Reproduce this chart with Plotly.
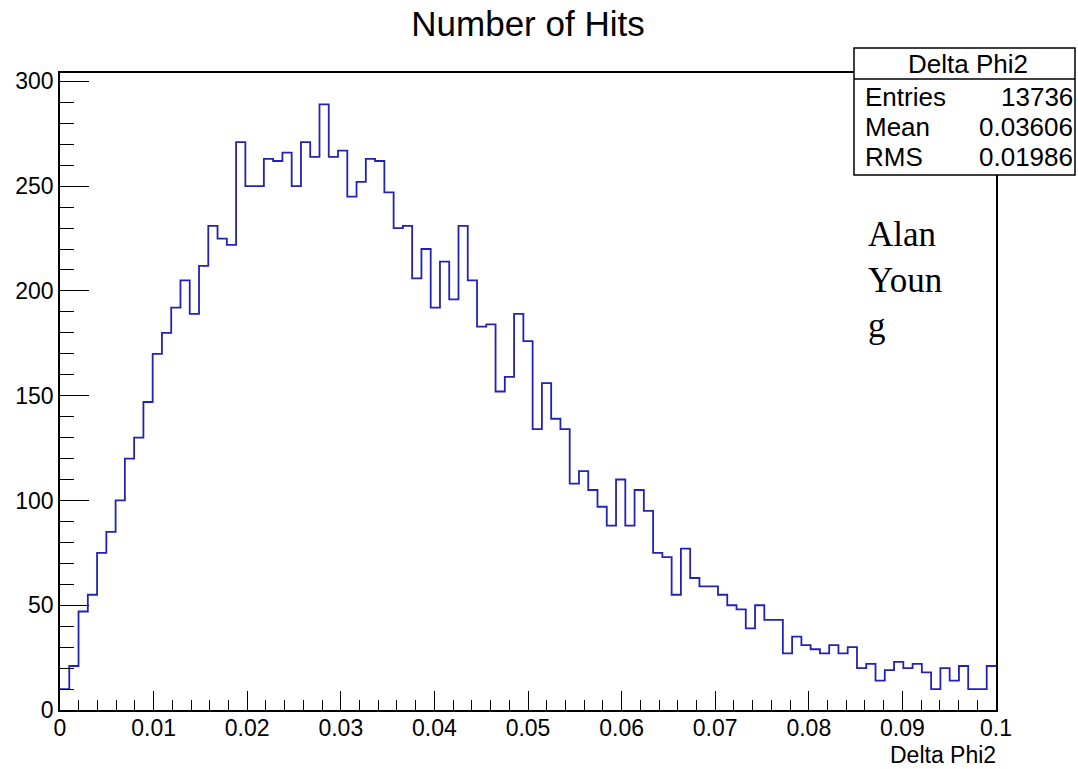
import numpy as np
import plotly.graph_objects as go

# ---- data ----
title_text = "Number of Hits"
x_title = "Delta Phi2"
x_min, x_max, n_bins = 0.0, 0.1, 101
counts = [
    10, 21, 47, 55, 75, 85, 100, 120, 130, 147,
    170, 180, 192, 205, 189, 212, 231, 225, 222, 271,
    250, 250, 263, 262, 266, 250, 271, 264, 289, 264,
    267, 245, 252, 263, 262, 247, 230, 231, 206, 220,
    192, 214, 196, 231, 205, 183, 184, 152, 159, 189,
    176, 134, 156, 139, 134, 108, 114, 105, 97, 88,
    110, 88, 105, 95, 75, 73, 55, 77, 63, 59,
    59, 55, 50, 48, 39, 50, 43, 43, 27, 35,
    31, 29, 27, 31, 27, 30, 20, 22, 14, 19,
    23, 20, 22, 18, 10, 20, 14, 21, 10, 10,
    21,
]
stats_title = "Delta Phi2"
stats_labels = ["Entries", "Mean", "RMS"]
stats_values = ["13736", "0.03606", "0.01986"]
note_lines = ["Alan", "Youn", "g"]

# ---- figure ----
W, H = 1078, 769
L, R, T, B = 60, 82, 73, 59
PW, PH = W - L - R, H - T - B

def px(xp):
    return (xp - L) / PW

def py(yp):
    return (H - B - yp) / PH

edges = np.linspace(x_min, x_max, n_bins + 1)
ys = list(counts) + [counts[-1]]

fig = go.Figure()
fig.add_trace(go.Scatter(
    x=edges, y=ys, mode="lines", line_shape="hv",
    line=dict(color="#2222b4", width=1.8), hoverinfo="skip", showlegend=False,
))

font = "Liberation Sans, Arial, sans-serif"
axis_common = dict(
    showline=True, linecolor="black", linewidth=1.5, mirror=True,
    ticks="inside", tickcolor="black", tickwidth=1.3,
    showgrid=False, zeroline=False,
    tickfont=dict(family=font, size=23, color="black"),
)
fig.update_xaxes(range=[x_min, x_max], tick0=0, dtick=0.01, ticklen=19, ticklabelstandoff=-3,
                 minor=dict(ticks="inside", ticklen=10, dtick=0.002, tickcolor="black", tickwidth=1.3, showgrid=False),
                 **axis_common)
fig.update_yaxes(range=[0, 304], tick0=0, dtick=50, ticklen=29,
                 minor=dict(ticks="inside", ticklen=14, dtick=10, tickcolor="black", tickwidth=1.3, showgrid=False),
                 **axis_common)

shapes = [
    dict(type="rect", xref="paper", yref="paper", x0=px(854), x1=px(1075), y0=py(48), y1=py(175),
         fillcolor="white", line=dict(color="black", width=1.5), layer="above"),
    dict(type="line", xref="paper", yref="paper", x0=px(854), x1=px(1075), y0=py(79), y1=py(79),
         line=dict(color="black", width=1.5), layer="above"),
]

ann = [
    dict(text=stats_title, x=px(968), y=py(64), xanchor="center", yanchor="middle"),
]
row_y = [97, 127, 157]
for lab, val, yy in zip(stats_labels, stats_values, row_y):
    ann.append(dict(text=lab, x=px(863), y=py(yy), xanchor="left", yanchor="middle"))
    ann.append(dict(text=val, x=px(1075), y=py(yy), xanchor="right", yanchor="middle"))
for a in ann:
    a.update(xref="paper", yref="paper", showarrow=False,
             font=dict(family=font, size=26, color="black"))

ann.append(dict(text=x_title, xref="paper", yref="paper", x=px(997), y=py(769),
                xanchor="right", yanchor="bottom", showarrow=False, borderpad=0,
                font=dict(family=font, size=23, color="black")))
ann.append(dict(text="<br>".join(note_lines), xref="paper", yref="paper", x=px(866), y=py(280),
                xanchor="left", yanchor="middle", align="left", showarrow=False,
                font=dict(family="Liberation Serif, Times New Roman, serif", size=35, color="black")))

fig.update_layout(
    width=W, height=H, autosize=False,
    margin=dict(l=L, r=R, t=T, b=B),
    paper_bgcolor="white", plot_bgcolor="white",
    title=dict(text=title_text, x=px(528), xref="paper", xanchor="center",
               y=1 - 24 / H, yref="container", yanchor="middle",
               font=dict(family=font, size=35, color="black")),
    shapes=shapes, annotations=ann,
)

fig.write_html("out.html")
